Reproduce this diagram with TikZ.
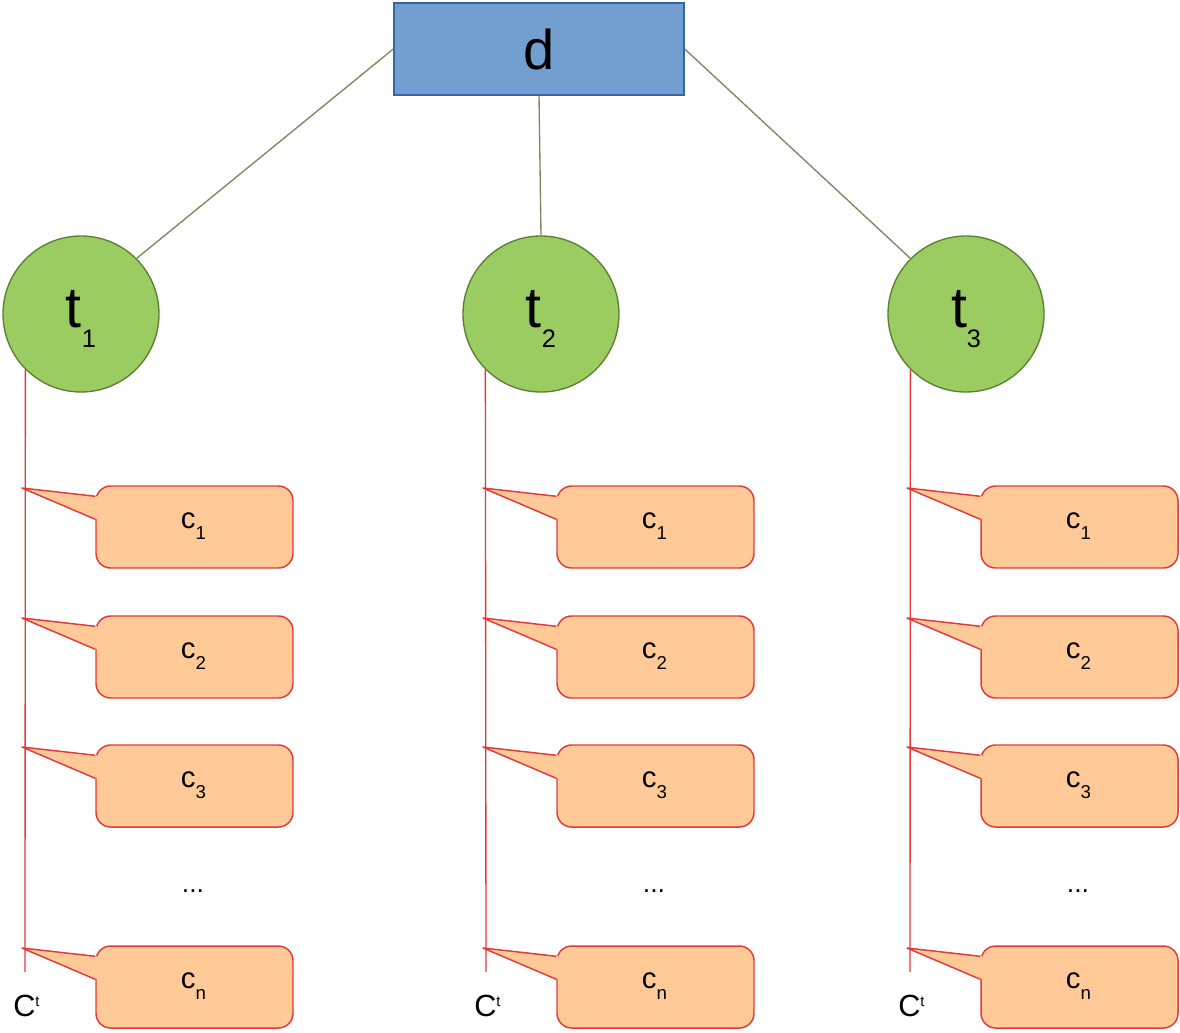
\documentclass[tikz,border=0pt]{standalone}
\usepackage{fontspec}
\setmainfont{Liberation Sans}
\usetikzlibrary{calc}
\definecolor{boxfill}{RGB}{114,159,207}
\definecolor{boxdraw}{RGB}{52,101,164}
\definecolor{circfill}{RGB}{155,204,98}
\definecolor{circdraw}{RGB}{88,128,48}
\definecolor{callfill}{RGB}{255,202,152}
\definecolor{calldraw}{RGB}{226,58,58}
\definecolor{linkcol}{RGB}{122,136,92}
\begin{document}
\begin{tikzpicture}[x=0.75pt,y=-0.75pt,
  dbox/.style={draw=boxdraw,fill=boxfill,line width=1.1pt,minimum width=217.5pt,minimum height=69pt,inner sep=0pt},
  tcirc/.style={circle,draw=circdraw,fill=circfill,line width=1pt,minimum size=117pt,inner sep=0pt},
  cbox/.style={draw=calldraw,fill=callfill,line width=1.1pt,rounded corners=11pt,minimum width=147.75pt,minimum height=61.5pt,inner sep=0pt},
  link/.style={draw=linkcol,line width=1pt},
  redline/.style={draw=calldraw,line width=1pt},
  clabel/.style={inner sep=0pt}
]
\useasboundingbox (0,0) rectangle (1180,1032);
\node[dbox] (d) at (539,49) {\fontsize{42}{42}\selectfont d};
\foreach \k/\cx/\lx in {1/81/25,2/541/486,3/966/910}{
  \node[tcirc] (t\k) at (\cx,314) {};
  \node[clabel] (tl\k) at (\cx,319) {\fontsize{43}{43}\selectfont t\raisebox{-15pt}{\fontsize{19}{19}\selectfont \k}};
  \coordinate (b\k) at (\lx,972);
  \draw[redline] (t\k.south west) -- (b\k);
  \foreach \r/\top/\lab in {1/486/1,2/616/2,3/745/3,4/946/n}{
    \node[cbox] (c\k\r) at (\lx+71+98.5,\top+41) {};
    \coordinate (p\k\r) at (\lx-3,\top+2);
    \fill[callfill] (p\k\r) -- ($(c\k\r.north west)+(2,11)$) -- ($(c\k\r.north west)+(2,34)$) -- cycle;
    \draw[calldraw,line width=1.1pt,line join=round] ($(c\k\r.north west)+(0,11)$) -- (p\k\r) -- ($(c\k\r.north west)+(0,34)$);
    \node[clabel] (l\k\r) at ($(c\k\r.center)+(-1,-1)$) {\fontsize{22}{22}\selectfont c\raisebox{-8pt}{\fontsize{14}{14}\selectfont \lab}};
  }
  \node[clabel] (dots\k) at (\lx+168,891) {\fontsize{20}{20}\selectfont ...};
  \node[clabel,anchor=base west] (ct\k) at (\lx-12,1016) {\fontsize{23}{23}\selectfont C\raisebox{7pt}{\fontsize{11}{11}\selectfont t}};
}
\draw[link] (d.west) -- (t1.north east);
\draw[link] (d.south) -- (t2.north);
\draw[link] (d.east) -- (t3.north west);
\end{tikzpicture}
\end{document}
